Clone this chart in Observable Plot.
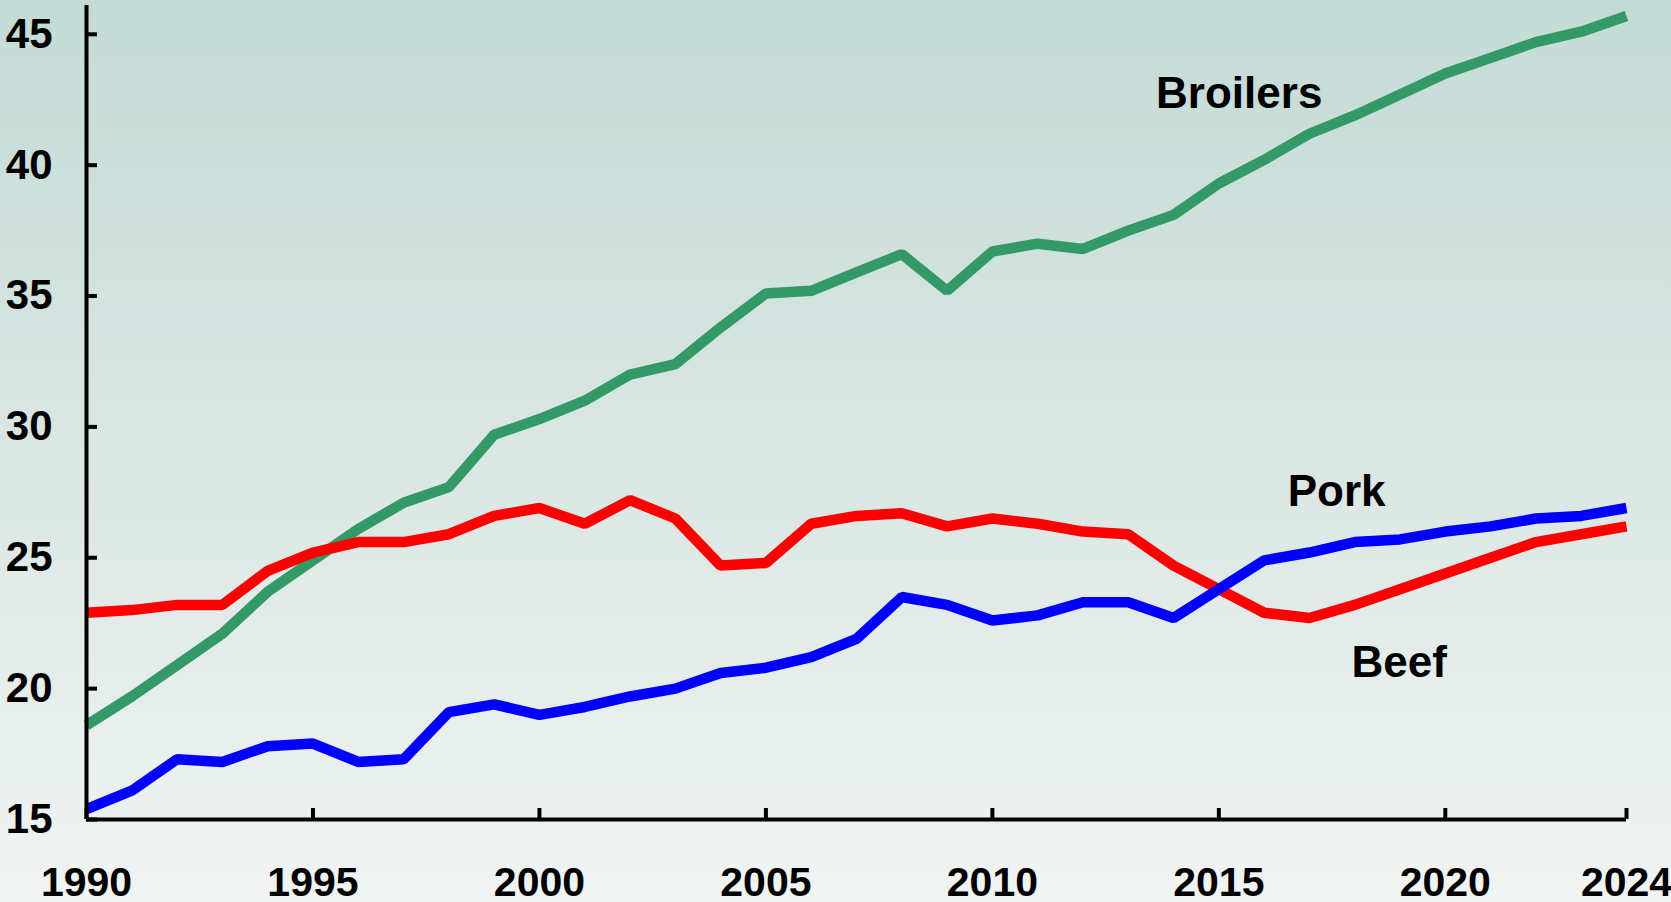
<!DOCTYPE html>
<html>
<head>
<meta charset="utf-8">
<script src="https://cdn.jsdelivr.net/npm/d3@7"></script>
<script src="https://cdn.jsdelivr.net/npm/@observablehq/plot@0.6"></script>
<style>
  html, body { margin: 0; padding: 0; }
  body { width: 1671px; height: 902px; background: linear-gradient(to bottom, #c4dbd5 0%, #dae6e3 50%, #f0f4f3 100%); }
  #chart svg { display: block; background: transparent; }
</style>
</head>
<body>
<div id="chart"></div>
<script>
const years = d3.range(1990, 2025);
const broilers = [18.6, 19.7, 20.9, 22.1, 23.7, 24.9, 26.1, 27.1, 27.7, 29.7, 30.3, 31.0, 32.0, 32.4, 33.8, 35.1, 35.2, 35.9, 36.6, 35.2, 36.7, 37.0, 36.8, 37.5, 38.1, 39.3, 40.2, 41.2, 41.9, 42.7, 43.5, 44.1, 44.7, 45.1, 45.7];
const redSeries = [22.9, 23.0, 23.2, 23.2, 24.5, 25.2, 25.6, 25.6, 25.9, 26.6, 26.9, 26.3, 27.2, 26.5, 24.7, 24.8, 26.3, 26.6, 26.7, 26.2, 26.5, 26.3, 26.0, 25.9, 24.7, 23.8, 22.9, 22.7, 23.2, 23.8, 24.4, 25.0, 25.6, 25.9, 26.2];
const blueSeries = [15.4, 16.1, 17.3, 17.2, 17.8, 17.9, 17.2, 17.3, 19.1, 19.4, 19.0, 19.3, 19.7, 20.0, 20.6, 20.8, 21.2, 21.9, 23.5, 23.2, 22.6, 22.8, 23.3, 23.3, 22.7, 23.8, 24.9, 25.2, 25.6, 25.7, 26.0, 26.2, 26.5, 26.6, 26.9];
const xTicks = [1990, 1995, 2000, 2005, 2010, 2015, 2020, 2024];
const yTicks = [15, 20, 25, 30, 35, 40, 45];
const labels = [
  {text: "Broilers", year: 2015.45, value: 42.17},
  {text: "Pork", year: 2017.6, value: 26.97},
  {text: "Beef", year: 2018.98, value: 20.44}
];

const toRows = (vals) => years.map((y, i) => ({year: y, value: vals[i]}));
const font = "'Liberation Sans', Arial, sans-serif";

const chart = Plot.plot({
  width: 1671,
  height: 902,
  marginLeft: 86,
  marginRight: 45,
  marginTop: 5,
  marginBottom: 83,
  style: {fontFamily: font, background: "transparent", overflow: "visible"},
  x: {domain: [1990, 2024], ticks: xTicks, tickFormat: d => String(d), label: null},
  y: {domain: [15, 46.1], ticks: yTicks, label: null},
  marks: [
    Plot.lineY(toRows(broilers), {x: "year", y: "value", stroke: "#339966", strokeWidth: 10.5, strokeLinejoin: "miter", strokeLinecap: "butt"}),
    Plot.lineY(toRows(redSeries), {x: "year", y: "value", stroke: "#ff0000", strokeWidth: 10.5, strokeLinejoin: "miter", strokeLinecap: "butt"}),
    Plot.lineY(toRows(blueSeries), {x: "year", y: "value", stroke: "#0000ff", strokeWidth: 10.5, strokeLinejoin: "miter", strokeLinecap: "butt"}),
    Plot.ruleX([1990], {stroke: "#000", strokeWidth: 4}),
    Plot.ruleY([15], {stroke: "#000", strokeWidth: 4}),
    Plot.axisY({ticks: yTicks, tickSize: -11, text: null, label: null, stroke: "#000", strokeWidth: 4, strokeOpacity: 1}),
    Plot.axisY({ticks: yTicks, tickSize: 0, tickPadding: 34, fontSize: 42, fontWeight: "bold", fill: "#000", label: null}),
    Plot.axisX({ticks: xTicks, tickSize: -11, text: null, label: null, stroke: "#000", strokeWidth: 4, strokeOpacity: 1}),
    Plot.axisX({ticks: xTicks, tickSize: 0, tickPadding: 47, fontSize: 41, fontWeight: "bold", fill: "#000", label: null, tickFormat: d => String(d)}),
    Plot.text(labels, {x: "year", y: "value", text: "text", fontSize: 44, fontWeight: "bold", fill: "#000", textAnchor: "middle", lineAnchor: "bottom"})
  ]
});
document.getElementById("chart").appendChild(chart);
</script>
</body>
</html>
